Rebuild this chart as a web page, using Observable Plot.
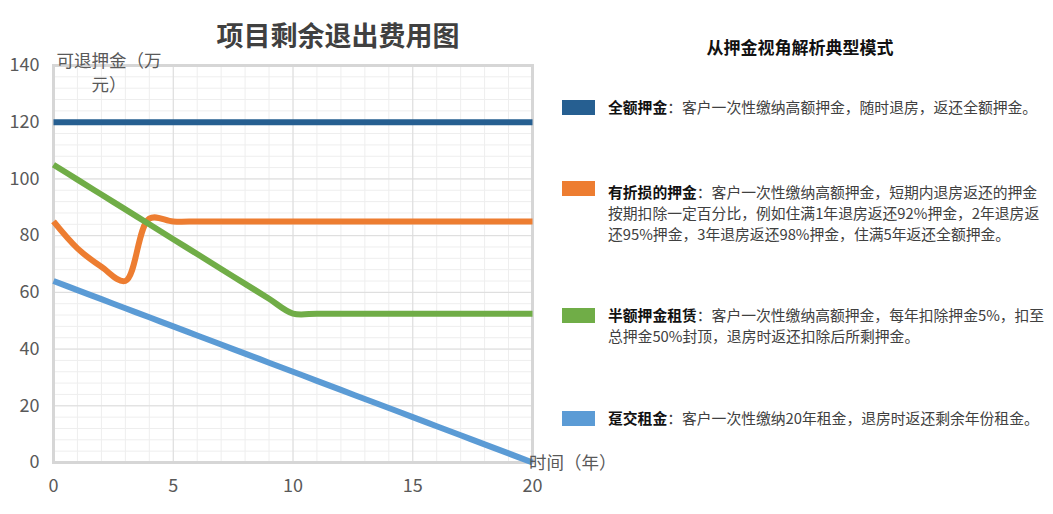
<!DOCTYPE html>
<html>
<head>
<meta charset="utf-8">
<script src="https://cdn.jsdelivr.net/npm/d3@7"></script>
<script src="https://cdn.jsdelivr.net/npm/@observablehq/plot@0.6"></script>
<style>
  html, body { margin: 0; padding: 0; background: #fff; }
  #root { position: relative; width: 1053px; height: 514px; overflow: hidden; background: #fff;
          font-family: "Noto Sans CJK SC", "Noto Sans", sans-serif; }
  #chart { position: absolute; left: 0; top: 0; }
  .abs { position: absolute; white-space: nowrap; }
  .title { left: 0; width: 676px; top: 21px; line-height: 28px; text-align: center;
           font-size: 27px; font-weight: bold; color: #404040; }
  .ylab { left: 49px; width: 120px; top: 48px; line-height: 24px; text-align: center;
          font-size: 17.5px; color: #595959; }
  .xlab { left: 529px; top: 450px; line-height: 24px;
          font-size: 17.5px; color: #595959; }
  .ltitle { left: 600px; width: 400px; top: 36px; line-height: 22px; text-align: center;
            font-size: 17px; font-weight: bold; color: #111; }
  .sw { position: absolute; left: 562px; width: 33px; height: 15px; }
  .item { position: absolute; left: 608px; font-size: 14.8px; line-height: 21px; color: #404040; white-space: nowrap; }
  .item b { color: #111; }
</style>
</head>
<body>
<div id="root"></div>
<script>
// ---- data ----
const years = [0, 1, 2, 3, 4, 5, 6, 7, 8, 9, 10, 11, 12, 13, 14, 15, 16, 17, 18, 19, 20];
const fullDeposit  = [120, 120, 120, 120, 120, 120, 120, 120, 120, 120, 120, 120, 120, 120, 120, 120, 120, 120, 120, 120, 120];
const lossDeposit  = [85, 75.5, 69, 64, 86, 85, 85, 85, 85, 85, 85, 85, 85, 85, 85, 85, 85, 85, 85, 85, 85];
const halfDeposit  = [105, 99.75, 94.5, 89.25, 84, 78.75, 73.5, 68.25, 63, 57.75, 52.5, 52.5, 52.5, 52.5, 52.5, 52.5, 52.5, 52.5, 52.5, 52.5, 52.5];
const prepaidRent  = [64, 60.8, 57.6, 54.4, 51.2, 48, 44.8, 41.6, 38.4, 35.2, 32, 28.8, 25.6, 22.4, 19.2, 16, 12.8, 9.6, 6.4, 3.2, 0];

const seriesNames  = ["全额押金", "有折损的押金", "半额押金租赁", "趸交租金"];
const seriesColors = ["#265f91", "#ed7d31", "#70ad47", "#5b9bd5"];
const seriesDesc = [
  ["：客户一次性缴纳高额押金，随时退房，返还全额押金。"],
  ["：客户一次性缴纳高额押金，短期内退房返还的押金",
   "按期扣除一定百分比，例如住满1年退房返还92%押金，2年退房返",
   "还95%押金，3年退房返还98%押金，住满5年返还全额押金。"],
  ["：客户一次性缴纳高额押金，每年扣除押金5%，扣至",
   "总押金50%封顶，退房时返还扣除后所剩押金。"],
  ["：客户一次性缴纳20年租金，退房时返还剩余年份租金。"]
];

const xTicks = [0, 5, 10, 15, 20];
const yTicks = [0, 20, 40, 60, 80, 100, 120, 140];
const xMinor = [0, 1, 2, 3, 4, 5, 6, 7, 8, 9, 10, 11, 12, 13, 14, 15, 16, 17, 18, 19, 20];
const yMinor = [0, 4, 8, 12, 16, 20, 24, 28, 32, 36, 40, 44, 48, 52, 56, 60, 64, 68, 72, 76, 80, 84, 88, 92, 96, 100, 104, 108, 112, 116, 120, 124, 128, 132, 136, 140];

const chartTitle = "项目剩余退出费用图";
const yLabel = ["可退押金（万", "元）"];
const xLabel = "时间（年）";
const legendTitle = "从押金视角解析典型模式";

// ---- build ----
const seriesValues = [fullDeposit, lossDeposit, halfDeposit, prepaidRent];
const rows = [];
seriesValues.forEach((vals, i) => years.forEach((yr, j) => rows.push({year: yr, value: vals[j], series: seriesNames[i]})));

const chart = Plot.plot({
  width: 612, height: 514,
  marginLeft: 53, marginRight: 80, marginTop: 65, marginBottom: 52,
  x: {domain: [0, 20]},
  y: {domain: [0, 140]},
  color: {domain: seriesNames, range: seriesColors},
  style: {fontFamily: "\"Noto Sans CJK SC\", sans-serif", color: "#595959", background: "transparent"},
  marks: [
    Plot.gridX({ticks: xMinor, stroke: "#eeeeee", strokeOpacity: 1, strokeWidth: 1}),
    Plot.gridY({ticks: yMinor, stroke: "#eeeeee", strokeOpacity: 1, strokeWidth: 1}),
    Plot.gridX({ticks: xTicks, stroke: "#dcdcdc", strokeOpacity: 1, strokeWidth: 1}),
    Plot.gridY({ticks: yTicks, stroke: "#dcdcdc", strokeOpacity: 1, strokeWidth: 1}),
    Plot.frame({stroke: "#d6d6d6", strokeWidth: 3}),
    ...seriesNames.map(name => Plot.line(rows.filter(r => r.series === name), {
      x: "year", y: "value", stroke: "series", strokeWidth: 6, curve: "catmull-rom", strokeLinecap: "butt"
    })),
    Plot.axisX({ticks: xTicks, tickSize: 0, tickPadding: 17, fontSize: 18, label: null}),
    Plot.axisY({ticks: yTicks, tickSize: 0, tickPadding: 14, fontSize: 18, label: null})
  ]
});
chart.id = "chart";

const root = document.getElementById("root");
root.appendChild(chart);

function addDiv(cls, html, styleObj) {
  const d = document.createElement("div");
  d.className = cls;
  d.innerHTML = html;
  if (styleObj) Object.assign(d.style, styleObj);
  root.appendChild(d);
  return d;
}
addDiv("abs title", chartTitle);
addDiv("abs ylab", yLabel.join("<br>"));
addDiv("abs xlab", xLabel);
addDiv("abs ltitle", legendTitle);

const itemTops = [96, 181, 304, 407];
const swatchTops = [100, 181, 308, 411];
seriesNames.forEach((name, i) => {
  addDiv("sw", "", {top: swatchTops[i] + "px", background: seriesColors[i]});
  const lines = seriesDesc[i].slice();
  lines[0] = "<b>" + name + "</b>" + lines[0];
  addDiv("item", lines.join("<br>"), {top: itemTops[i] + "px"});
});
</script>
</body>
</html>
